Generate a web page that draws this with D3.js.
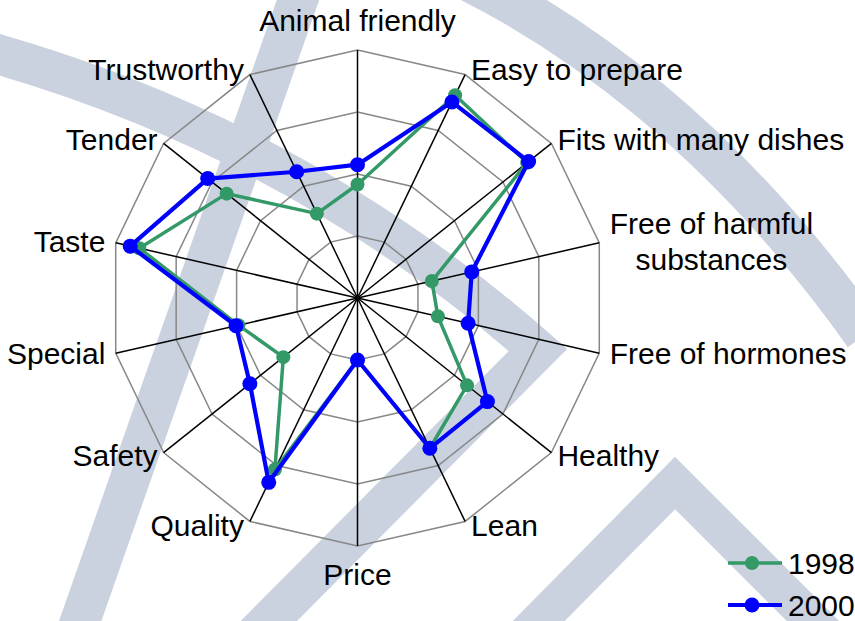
<!DOCTYPE html>
<html>
<head>
<meta charset="utf-8">
<script src="https://cdn.jsdelivr.net/npm/d3@7"></script>
<style>
  body { margin: 0; background: #fff; }
  text { font-family: "Liberation Sans", Arial, sans-serif; font-size: 30px; fill: #000; }
</style>
</head>
<body>
<svg id="chart" width="855" height="621"></svg>
<script>
// chart data
const categories = ["Animal friendly", "Easy to prepare", "Fits with many dishes",
  "Free of harmful substances", "Free of hormones", "Healthy", "Lean", "Price",
  "Quality", "Safety", "Special", "Taste", "Tender", "Trustworthy"];
const seriesNames = ["1998", "2000"];
const values1998 = [1.83, 3.63, 3.50, 1.23, 1.33, 2.26, 2.69, 1.00, 3.07, 1.53, 1.97, 3.61, 2.70, 1.51];
const values2000 = [2.15, 3.51, 3.53, 1.89, 1.83, 2.68, 2.69, 1.00, 3.30, 2.22, 2.01, 3.76, 3.09, 2.26];
const ringLevels = [1, 2, 3, 4];

var svg = d3.select("#chart");
var width = 855, height = 621;
var cx = 357.5, cy = 298, R = 248;
var n = categories.length;
var step = 2 * Math.PI / n;

svg.append("rect").attr("width", width).attr("height", height).attr("fill", "#fff");

// faint background logo shapes
var wm = svg.append("g")
    .attr("fill", "none")
    .attr("stroke", "#cad2df")
    .attr("stroke-linejoin", "miter")
    .attr("stroke-miterlimit", 6);
wm.append("path").attr("stroke-width", 40)
    .attr("d", "M-10,52 Q300,140 538,350 L250,640");
wm.append("path").attr("stroke-width", 40)
    .attr("d", "M70,650 L305,-20");
wm.append("path").attr("stroke-width", 42)
    .attr("d", "M425,-40 C575,25 730,145 865,335");
wm.append("path").attr("stroke-width", 37)
    .attr("d", "M520,640 L675,483 L832,640");

var r = d3.scaleLinear().domain([0, d3.max(ringLevels)]).range([0, R]);
var maxLevel = d3.max(ringLevels);
var ang = function (i) { return i * step; };
var px = function (i, v) { return cx + r(v) * Math.sin(ang(i)); };
var py = function (i, v) { return cy - r(v) * Math.cos(ang(i)); };

var g = svg.append("g");

// rings
var ringLine = d3.lineRadial()
    .angle(function (d, i) { return ang(i); })
    .radius(function (d) { return r(d); })
    .curve(d3.curveLinearClosed);
g.selectAll(".ring").data(ringLevels).enter().append("path")
    .attr("class", "ring")
    .attr("transform", "translate(" + cx + "," + cy + ")")
    .attr("d", function (lv) { return ringLine(categories.map(function () { return lv; })); })
    .attr("fill", "none")
    .attr("stroke", "#878787")
    .attr("stroke-width", 1.5);

// spokes
g.selectAll(".spoke").data(categories).enter().append("line")
    .attr("class", "spoke")
    .attr("x1", cx).attr("y1", cy)
    .attr("x2", function (d, i) { return px(i, maxLevel); })
    .attr("y2", function (d, i) { return py(i, maxLevel); })
    .attr("stroke", "#000")
    .attr("stroke-width", 1.5);

// category labels
var labels = g.selectAll(".lab").data(categories).enter().append("text")
    .attr("class", "lab");
labels.each(function (d, i) {
    var t = d3.select(this);
    var s = Math.sin(ang(i)), c = Math.cos(ang(i));
    var ex = px(i, maxLevel), ey = py(i, maxLevel);
    if (Math.abs(s) < 0.05) {
        t.attr("text-anchor", "middle").attr("x", ex)
            .attr("y", c > 0 ? ey - 19 : ey + 39).text(d);
        return;
    }
    var sign = s > 0 ? 1 : -1;
    var dx = sign * (6 + 5 * Math.max(0, (Math.abs(s) - 0.8) / 0.2));
    var by = ey + 10 - 5 * c;
    if (d === "Free of harmful substances") {
        var lines = ["Free of harmful", "substances"];
        t.attr("text-anchor", "middle");
        var spans = t.selectAll("tspan").data(lines).enter().append("tspan")
            .attr("y", function (l, k) { return by - 18 + k * 36; })
            .text(function (l) { return l; });
        var w = d3.max(spans.nodes(), function (nd) { return nd.getComputedTextLength(); });
        spans.attr("x", ex + dx + w / 2);
        return;
    }
    t.attr("text-anchor", sign > 0 ? "start" : "end")
        .attr("x", ex + dx).attr("y", by).text(d);
});

// series
var series = [
    { name: seriesNames[0], values: values1998, color: "#339966", width: 3.5, rad: 7 },
    { name: seriesNames[1], values: values2000, color: "#0000ff", width: 4.2, rad: 7.5 }
];
var sg = g.selectAll(".series").data(series).enter().append("g").attr("class", "series");
sg.append("path")
    .attr("transform", "translate(" + cx + "," + cy + ")")
    .attr("d", function (d) { return ringLine(d.values); })
    .attr("fill", "none")
    .attr("stroke", function (d) { return d.color; })
    .attr("stroke-width", function (d) { return d.width; })
    .attr("stroke-linejoin", "round");
sg.each(function (d) {
    d3.select(this).selectAll("circle").data(d.values).enter().append("circle")
        .attr("cx", function (v, i) { return px(i, v); })
        .attr("cy", function (v, i) { return py(i, v); })
        .attr("r", d.rad)
        .attr("fill", d.color);
});

// legend
var lg = svg.append("g").selectAll(".leg").data(series).enter().append("g")
    .attr("class", "leg")
    .attr("transform", function (d, i) { return "translate(728," + (563 + i * 42) + ")"; });
lg.append("line").attr("x1", 0).attr("x2", 54).attr("y1", 0).attr("y2", 0)
    .attr("stroke", function (d) { return d.color; })
    .attr("stroke-width", function (d) { return d.width; });
lg.append("circle").attr("cx", 24).attr("cy", 0).attr("r", function (d) { return d.rad; })
    .attr("fill", function (d) { return d.color; });
lg.append("text").attr("x", 60).attr("y", 10.5).text(function (d) { return d.name; });
</script>
</body>
</html>
